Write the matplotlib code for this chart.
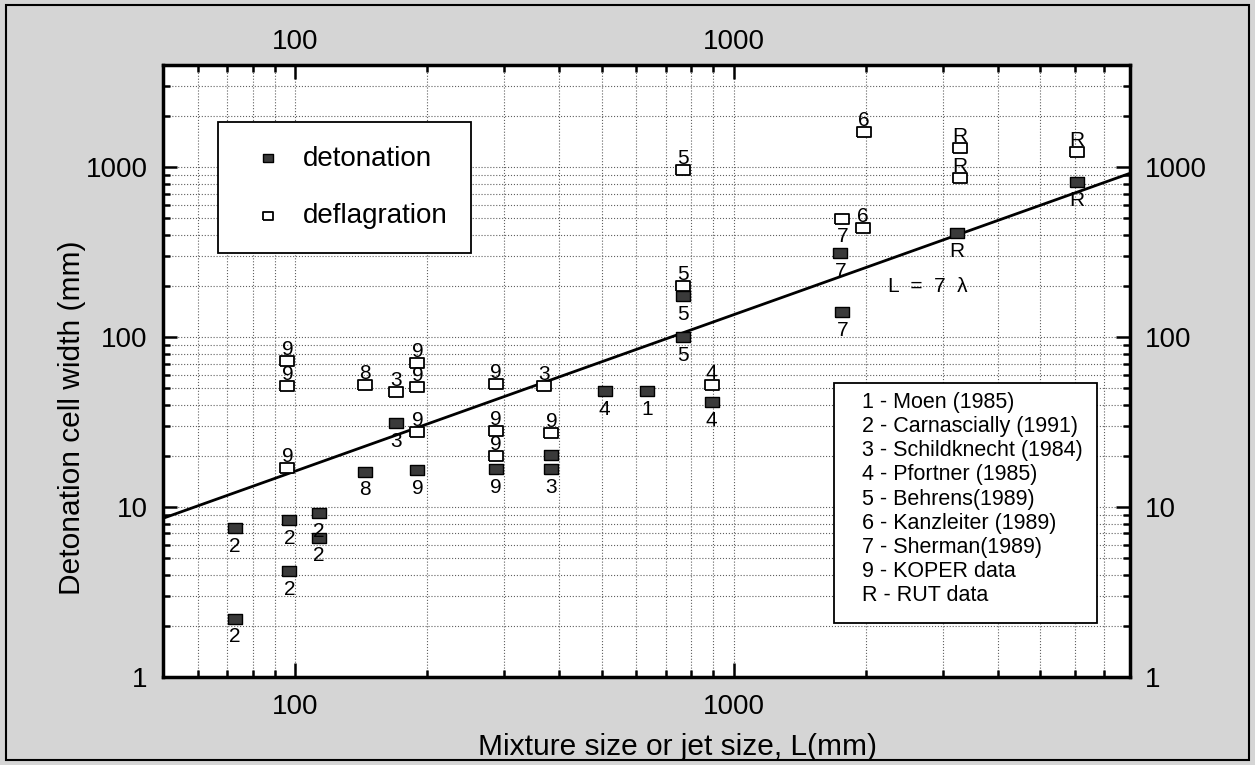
import numpy as np
import matplotlib
matplotlib.use("Agg")
import matplotlib.pyplot as plt
from matplotlib.ticker import FuncFormatter, LogLocator, NullFormatter
from matplotlib.patches import Rectangle

plt.rcParams['font.family'] = ['Liberation Sans', 'DejaVu Sans']

# detonation points (filled squares), label goes below
det_x = [72.8, 72.8, 97, 97, 113.5, 113.5, 144, 169.5, 190, 287, 384, 384,
         508, 635, 768, 768, 892, 1752, 1770, 3230, 6080]
det_y = [7.5, 2.2, 8.4, 4.2, 9.2, 6.6, 16.2, 31.2, 16.5, 16.7, 20.2, 16.7,
         48, 48, 174, 100, 41.4, 312, 140, 409, 816]
det_lab = ['2', '2', '2', '2', '2', '2', '8', '3', '9', '9', '', '3',
           '4', '1', '5', '5', '4', '7', '7', 'R', 'R']

# deflagration points (open squares), label goes above
def_x = [96, 96, 96, 144, 169.5, 190, 190, 190, 287, 287, 287, 370,
         384, 892, 768, 768, 1986, 1770, 1975, 3281, 3281, 6080]
def_y = [72.3, 51.5, 16.9, 52, 47.4, 70.3, 50.8, 27.6, 52.9, 28, 20, 51.5,
         27.2, 52, 960, 200, 1607, 494, 437, 1293, 861, 1225]
def_lab = ['9', '9', '9', '8', '3', '9', '9', '9', '9', '9', '9', '3',
           '9', '4', '5', '5', '6', '7', '6', 'R', 'R', 'R']

# correlation line L = 7 lambda
line_x = [50, 8000]
line_y = [8.6, 920]

top_ticks = [100, 1000]

sources = ['1 - Moen (1985)', '2 - Carnascially (1991)', '3 - Schildknecht (1984)',
           '4 - Pfortner (1985)', '5 - Behrens(1989)', '6 - Kanzleiter (1989)',
           '7 - Sherman(1989)', '9 - KOPER data', 'R - RUT data']

fig = plt.figure(figsize=(12.55, 7.65), dpi=100, facecolor='#d5d5d5')
ax = fig.add_axes([0.130, 0.115, 0.770, 0.800])
ax.set_facecolor('white')

ax.set_xscale('log')
ax.set_yscale('log')
ax.set_xlim(50, 8000)
ax.set_ylim(1, 4000)

rect = [(-1, -0.78), (1, -0.78), (1, 0.78), (-1, 0.78), (-1, -0.78)]

ax.plot(line_x, line_y, color='black', lw=2, zorder=3)
det = ax.scatter(det_x, det_y, marker=rect, s=90, facecolor='#3a3a3a',
                 edgecolor='black', linewidths=1, zorder=4)
dfl = ax.scatter(def_x, def_y, marker=rect, s=100, facecolor='white',
                 edgecolor='black', linewidths=1.3, zorder=4)

for x, y, t in zip(det_x, det_y, det_lab):
    ax.annotate(t, (x, y), xytext=(0, -13), textcoords='offset points',
                ha='center', va='center', fontsize=15, zorder=5)
for x, y, t in zip(def_x, def_y, def_lab):
    off = -12 if t == '7' else 8.5
    ax.annotate(t, (x, y), xytext=(0, off), textcoords='offset points',
                ha='center', va='center', fontsize=15, zorder=5)

ax.text(2250, 200, 'L  =  7  λ', fontsize=15, va='center', ha='left')

# grid and ticks
ax.xaxis.set_major_locator(LogLocator(base=10))
ax.xaxis.set_minor_locator(LogLocator(base=10, subs=np.arange(2, 10)))
ax.yaxis.set_minor_locator(LogLocator(base=10, subs=np.arange(2, 10)))
fmt = FuncFormatter(lambda v, p: f'{v:g}')
ax.xaxis.set_major_formatter(fmt)
ax.yaxis.set_major_formatter(fmt)
ax.xaxis.set_minor_formatter(NullFormatter())
ax.yaxis.set_minor_formatter(NullFormatter())
ax.grid(True, which='both', ls=':', color='#606060', lw=0.8)

ax.tick_params(which='both', direction='in', top=True, right=True,
               labeltop=False, labelright=True, width=1.8)
ax.tick_params(which='major', length=10, labelsize=20)
ax.tick_params(which='minor', length=5)
ax.tick_params(axis='x', which='major', pad=12)
ax.tick_params(axis='y', which='major', pad=11)
for s in ax.spines.values():
    s.set_linewidth(2.5)

# top axis labels sit closer to the frame than the bottom ones
for v in top_ticks:
    ax.annotate(f'{v:g}', xy=(v, 1), xycoords=('data', 'axes fraction'),
                xytext=(0, 7), textcoords='offset points',
                ha='center', va='bottom', fontsize=20)

ax.set_xlabel('Mixture size or jet size, L(mm)', fontsize=21.5)
ax.xaxis.set_label_coords(0.532, -0.114)
ax.set_ylabel('Detonation cell width (mm)', fontsize=21.5)
ax.yaxis.set_label_coords(-0.094, 0.423)
ax.yaxis.label.set_va('center')
ax.xaxis.label.set_va('center')

leg = ax.legend([det, dfl], ['detonation', 'deflagration'], loc='upper left',
                bbox_to_anchor=(0.057, 0.907), fontsize=20, frameon=True,
                fancybox=False, edgecolor='black', framealpha=1,
                borderpad=0.85, labelspacing=1.15, handletextpad=0.3,
                borderaxespad=0, markerscale=0.75, handlelength=1.9)
leg.get_frame().set_linewidth(1.3)

ax.add_patch(Rectangle((0.694, 0.088), 0.272, 0.392, transform=ax.transAxes,
                       fc='white', ec='black', lw=1.3, zorder=6))
ax.text(0.723, 0.466, '\n'.join(sources), transform=ax.transAxes,
        fontsize=15.5, va='top', ha='left', linespacing=1.2, zorder=7)

fig.patches.append(Rectangle((0.005, 0.006), 0.99, 0.988, transform=fig.transFigure,
                             fill=False, ec='black', lw=1.5))

fig.savefig('out.png', dpi=100, facecolor=fig.get_facecolor())
